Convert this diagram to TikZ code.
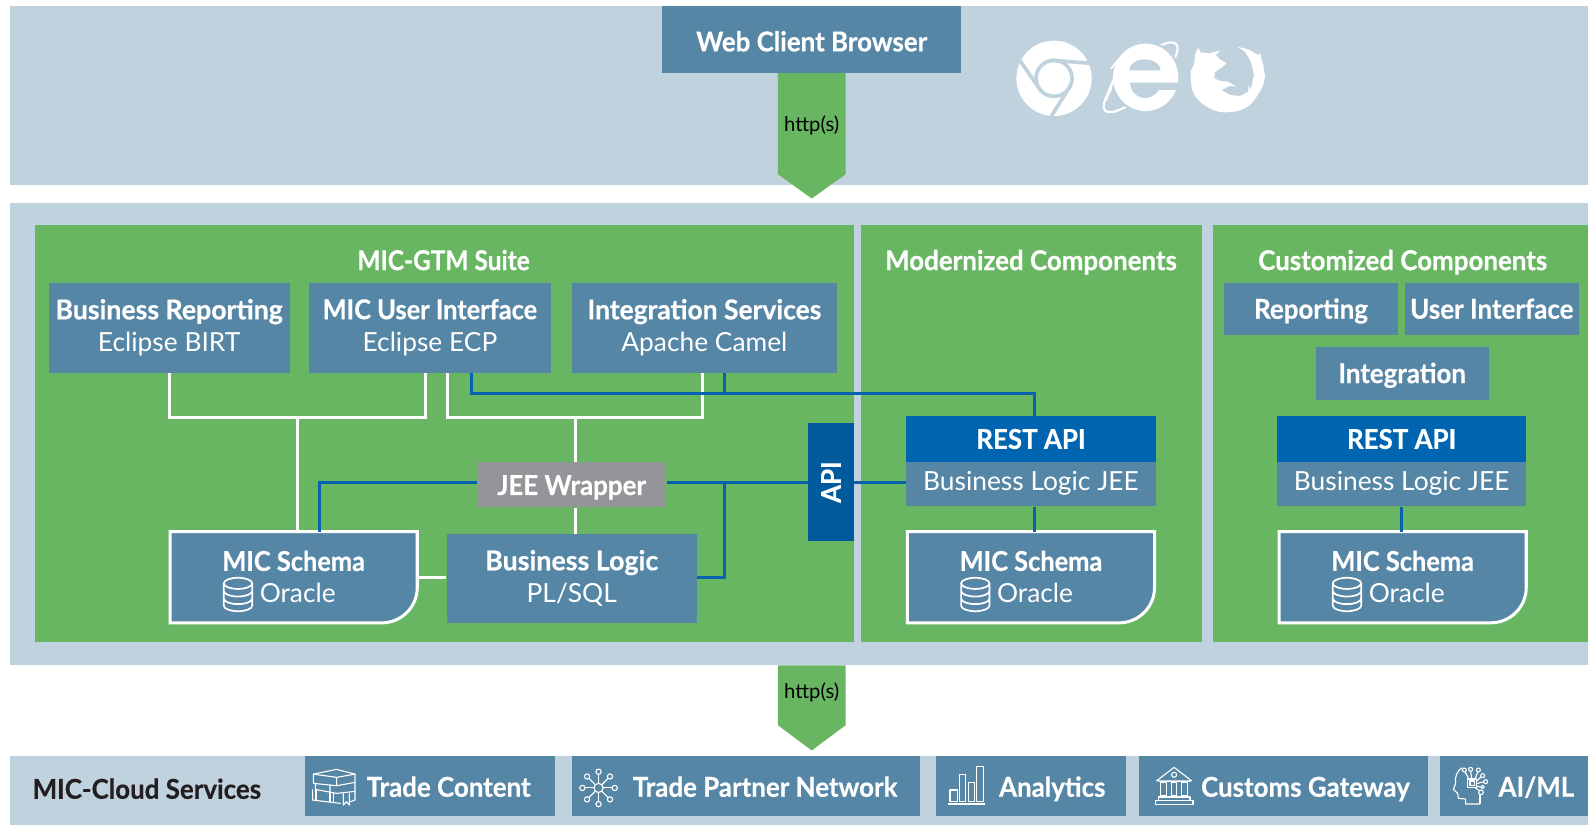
\documentclass[tikz,border=0pt]{standalone}
\usepackage{fontspec}
\setmainfont{Lato}[BoldFeatures={FakeBold=0.5,FakeStretch=0.947}]
\usetikzlibrary{calc}
\definecolor{band}{HTML}{C0D2DE}
\definecolor{grn}{HTML}{68B662}
\definecolor{steel}{HTML}{5686A5}
\definecolor{rest}{HTML}{0065B0}
\definecolor{apib}{HTML}{005A9C}
\definecolor{wrap}{HTML}{939598}
\definecolor{ink}{HTML}{231F20}
\definecolor{wire}{HTML}{0A62AE}
\newcommand{\lblfont}{\bfseries\fontsize{27}{32}\selectfont}
\newcommand{\sublbl}{\mdseries\fontsize{26}{32}\selectfont}
\tikzset{
 x=1pt,y=-1pt,
 panel/.style={fill=band,draw=none},
 gpanel/.style={fill=grn,draw=none},
 boxn/.style={fill=steel,text=white,inner sep=0,align=center,font=\lblfont},
 reston/.style={boxn,fill=rest},
 title/.style={inner sep=0,align=center,font=\lblfont,text=white},
 one/.style={text height=#1,text depth=6},
 whw/.style={draw=white,line width=3pt},
 blw/.style={draw=wire,line width=3pt},
 outl/.style={draw=white,line width=3pt,fill=steel},
 arrowg/.style={fill=grn,draw=none},
 httpl/.style={inner sep=0,text=black,font=\fontsize{20}{24}\selectfont},
 icn/.style={draw=white,line width=1.1pt,fill=none,line join=round},
 dbicon/.pic={
  \draw[draw=white,line width=1.7pt,fill=none]
   (14,-11) arc[start angle=0,end angle=360,x radius=14,y radius=5.5]
   (-14,-11) -- (-14,11) arc[start angle=180,end angle=0,x radius=14,y radius=5.5] -- (14,-11)
   (-14,-3.5) arc[start angle=180,end angle=0,x radius=14,y radius=5.5]
   (-14,4) arc[start angle=180,end angle=0,x radius=14,y radius=5.5];
 },
}
\newcommand{\boxat}[7][boxn]{\node[#1,minimum width=#5-#3,minimum height=#6-#4] (#2) at ({(#3+#5)/2},{(#4+#6)/2}) {#7};}
\begin{document}
\begin{tikzpicture}
\useasboundingbox (0,0) rectangle (1568,814.6);
\fill[white] (0,0) rectangle (1568,814.6);
% bands
\fill[panel] (10,6) rectangle (1568,183);
\fill[panel] (10,200) rectangle (1568,657);
\fill[panel] (10,746) rectangle (1568,814.6);
% green panels
\fill[gpanel] (35,222) rectangle (843,634);
\fill[gpanel] (850,222) rectangle (1187,634);
\fill[gpanel] (1198,222) rectangle (1568,634);
% arrows
\fill[arrowg] (768,72) -- (835,72) -- (835,172) -- (801.5,196) -- (768,172) -- cycle;
\fill[arrowg] (768,657) -- (835,657) -- (835,716) -- (801.5,741) -- (768,716) -- cycle;
\node[httpl] (h1) at (801.5,124) {http(s)};
\node[httpl] (h2) at (801.5,684) {http(s)};
\boxat[boxn,one=29.4]{web}{654}{6}{949}{72}{Web Client Browser}
% chrome
\begin{scope}[shift={(967.7,19.75)},x=.3291pt,y=-.3291pt]
 \fill[white] (222,175) circle[radius=113];
 \draw[band,line width=3.6pt] (222,175) circle[radius=54];
 \draw[band,line width=3.6pt,line cap=round] (215,121) -- (335,130) (120,122) -- (176,203) (272,195) -- (212,292);
\end{scope}
% IE
\begin{scope}[shift={(1081.2,34.56)},x=.3291pt,y=-.3291pt]
 \draw[white,line width=2.2pt,rotate around={43:(137,127)}] (137,127) ellipse[x radius=146,y radius=44];
 \fill[band] (152,127) ellipse[x radius=106,y radius=108];
 \draw[white,line width=1.8pt] (48,102) .. controls (60,82) and (78,66) .. (98,56);
 \draw[white,line width=2.6pt] (62,120) .. controls (50,150) and (38,175) .. (33,195);
 \fill[white] (152,127) ellipse[x radius=98,y radius=101];
 \fill[band] (103,106) .. controls (106,62) and (192,62) .. (197,106) -- cycle;
 \fill[band] (105,143) -- (256,143) -- (256,165) -- (192,165) .. controls (170,200) and (112,200) .. (105,143) -- cycle;
\end{scope}
% Firefox
\begin{scope}[shift={(1165.1,34.56)},x=.3291pt,y=-.3291pt]
 \fill[white] (54,38) -- (62,52) -- (88,55) -- (122,46) -- (108,60) -- (118,72) -- (140,85) -- (128,95) -- (105,112) -- (103,130) -- (120,138) -- (145,140) -- (168,155) -- (150,152) -- (125,165) -- (150,180) -- (180,183) -- (205,170) -- (205,150) -- (212,165) -- (222,120) -- (218,100) -- (210,75) -- (195,50) -- (172,35) -- (205,43) -- (235,60) -- (240,55) -- (250,90) -- (255,125) .. controls (252,150) and (243,170) .. (215,205) .. controls (195,225) and (170,232) .. (130,232) .. controls (100,230) and (70,212) .. (50,190) .. controls (35,170) and (32,150) .. (32,110) -- (43,85) -- (45,60) -- cycle;
\end{scope}
% titles
\node[title,one=21.4,xscale=.944] (t1) at (438,259) {MIC-GTM Suite};
\node[title,one=21.4] (t2) at (1018,259) {Modernized Components};
\node[title,one=21.4] (t3) at (1385,259) {Customized Components};
% top boxes
\boxat{br}{48}{279}{286}{368}{\scalebox{1.03}[1]{Business Reporting}\\\sublbl Eclipse BIRT}
\boxat{ui}{305}{279}{544}{368}{\scalebox{.98}[1]{MIC User Interface}\\\sublbl Eclipse ECP}
\boxat{is}{565}{279}{826}{368}{\scalebox{1.02}[1]{Integration Services}\\\sublbl Apache Camel}
\boxat[boxn,one=25.4]{rep}{1209}{279}{1380}{331}{Reporting}
\boxat[boxn,one=25.4]{cui}{1387}{279}{1559}{331}{User Interface}
\boxat[boxn,one=24.4]{integ}{1299}{343}{1470}{395}{Integration}
\boxat[reston,one=25.4]{ra}{895}{411}{1141}{456}{REST API}
\boxat[boxn,one=19.4]{bl2}{895}{456}{1141}{500}{\sublbl Business Logic JEE}
\boxat[reston,one=25.4]{rb}{1261}{411}{1507}{456}{REST API}
\boxat[boxn,one=19.4]{bl3}{1261}{456}{1507}{500}{\sublbl Business Logic JEE}
\boxat{bl}{441}{527}{688}{615}{\scalebox{1.035}[1]{Business Logic}\\\sublbl PL/SQL}
\boxat[boxn,fill=wrap,one=26.4]{jee}{471}{456}{658}{501}{JEE Wrapper}
\node[boxn,fill=apib,rotate=90,minimum width=116,minimum height=45] (api) at (820.5,476) {API};
% schema shapes
\foreach \a/\b in {168/412,896/1140,1263/1507}{
 \draw[outl] (\a,525) -- (\b,525) -- (\b,580) arc[start angle=0,end angle=90,radius=35] -- (\a,615) -- cycle;
}
\coordinate (s1top) at (294,525);
\coordinate (s1wire) at (315,525);
\coordinate (s1right) at (412,570);
\foreach \n/\c in {s1/290,s2/1018,s3/1385}{
 \node[title,one=25.4,xscale=.98] (\n a) at (\c,554) {MIC Schema};
 \node[title,one=25.4,font=\sublbl] (\n b) at ({\c+4},585) {Oracle};
 \pic at ({\c-55},587) {dbicon};
}
% white connectors
\begin{scope}[whw]
 \coordinate (j1) at (294,412);
 \coordinate (j2) at (568,412);
 \draw (br.south) |- ([xshift=-4.5pt]ui.south |- j1) -- ([xshift=-4.5pt]ui.south);
 \draw ([xshift=17.5pt]ui.south) |- ([xshift=-1.5pt]is.south |- j2) -- ([xshift=-1.5pt]is.south);
 \draw (j1) -- (s1top);
 \draw (j2) -- (j2 |- jee.north);
 \draw (j2 |- jee.south) -- (j2 |- bl.north);
 \draw (s1right) -- (s1right -| bl.west);
\end{scope}
% blue connectors
\begin{scope}[blw]
 \coordinate (k1) at (1021,389);
 \coordinate (k2) at (715,476);
 \draw ([xshift=41.5pt]ui.south) |- (k1) -- (k1 |- ra.north);
 \draw (k2 |- is.south) -- (k2 |- k1);
 \draw (jee.west |- k2) -| (s1wire);
 \draw (jee.east |- k2) -- (api.north |- k2);
 \draw (api.south |- k2) -- (bl2.west |- k2);
 \draw (bl.east |- s1right) -| (k2);
 \draw (k1 |- bl2.south) -- (k1 |- 0,525);
 \draw (bl3.south) -- (bl3.south |- 0,525);
\end{scope}
% cloud services
\node[inner sep=0,text=ink,font=\lblfont,text height=21.4,text depth=6] (cloud) at (145,781) {MIC-Cloud Services};
\boxat[boxn,one=27.4]{c1}{301}{746}{548}{806}{\hspace*{37pt}Trade Content}
\boxat[boxn,one=27.4]{c2}{565}{746}{908}{806}{\hspace*{38pt}Trade Partner Network}
\boxat[boxn,one=27.4]{c3}{924}{746}{1112}{806}{\hspace*{42pt}Analytics}
\boxat[boxn,one=27.4]{c4}{1125}{746}{1410}{806}{\hspace*{43pt}Customs Gateway}
\boxat[boxn,one=27.4]{c5}{1422}{746}{1568}{806}{\hspace*{44pt}AI/ML}
% book icon
\begin{scope}[shift={(296.2,740.6)},x=.3291pt,y=-.3291pt,icn]
 \draw (40,72) -- (110,58) -- (165,72) -- (110,82) -- cycle;
 \draw (40,72) -- (40,100) -- (110,107) -- (165,97) -- (165,72) (110,82) -- (110,107);
 \draw (46,100) -- (46,118) -- (110,130) -- (165,124) -- (165,97) (90,104) -- (90,125);
 \draw (38,118) -- (38,150) -- (122,160) (148,156) -- (165,150) -- (165,124);
 \draw (48,120) -- (48,150) (90,126) -- (90,156) (100,128) -- (100,156);
 \draw (130,130) -- (130,165) -- (139,155) -- (148,165) -- (148,130);
\end{scope}
% network icon
\begin{scope}[icn]
 \draw (591,778) circle[radius=4.5];
 \foreach \ang in {0,45,...,315}{
  \draw ($(591,778)+(\ang:4.5)$) -- ($(591,778)+(\ang:13.5)$);
  \draw ($(591,778)+(\ang:16)$) circle[radius=2.6];
 }
\end{scope}
% bars icon
\begin{scope}[icn]
 \draw (938,791.5) rectangle (945,780) (947,791.5) rectangle (953.5,764.6) (956,791.5) rectangle (962.5,772.5) (964.5,791.5) rectangle (971,757);
 \draw[line width=1.6pt] (936,794) -- (973,794);
\end{scope}
% bank icon
\begin{scope}[icn]
 \draw (1159.3,757.7) -- (1142,771) -- (1176.6,771) -- cycle;
 \draw (1159.3,765) circle[radius=2.5];
 \foreach \cx in {1146,1156.5,1167}{
  \draw (\cx,773) rectangle ({\cx+5.5},786);
 }
 \draw (1144,772) -- (1175,772);
 \draw (1144,787) rectangle (1175,790.5) (1141,790.5) rectangle (1178,794.5);
\end{scope}
% AI head icon
\begin{scope}[shift={(1426.8,745.5)},x=.3291pt,y=-.3291pt,icn]
 \draw (105,147) -- (62,147) -- (62,132) -- (40,130) -- (38,115) -- (25,103) -- (32,85) .. controls (28,65) and (38,45) .. (52,38);
 \draw (105,147) -- (105,118);
 \draw (68,72) rectangle (95,98) (75,78) rectangle (88,92);
 \draw (58,45) circle[radius=6] (77,43) circle[radius=6] (100,45) circle[radius=6] (113,62) circle[radius=6] (122,80) circle[radius=6] (113,96) circle[radius=5] (108,112) circle[radius=7];
 \draw (72,72) -- (60,51) (80,72) -- (77,49) (90,72) -- (98,51) (95,78) -- (108,66) (95,86) -- (116,80) (95,94) -- (108,96) (90,98) -- (104,107);
\end{scope}
\end{tikzpicture}
\end{document}
